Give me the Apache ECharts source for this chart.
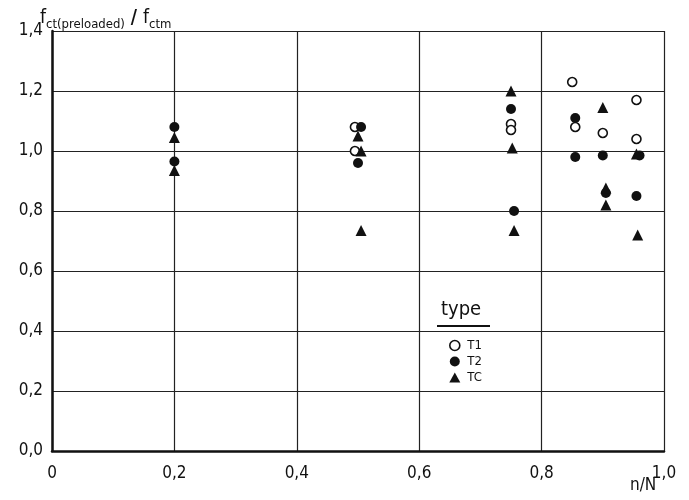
<!DOCTYPE html>
<html>
<head>
<meta charset="utf-8">
<script src="https://cdn.jsdelivr.net/npm/echarts@6/dist/echarts.min.js"></script>
<style>
html,body{margin:0;padding:0;background:#fff;}
#c{width:689px;height:500px;}
</style>
</head>
<body>
<div id="c"></div>
<script>
// Data (n/N, fct(preloaded)/fctm)
const xTicks = [0, 0.2, 0.4, 0.6, 0.8, 1.0];
const yTicks = [0, 0.2, 0.4, 0.6, 0.8, 1.0, 1.2, 1.4];
const seriesNames = ['T1', 'T2', 'TC'];
const T1 = [[0.495,1.08],[0.495,1.00],[0.75,1.09],[0.75,1.07],[0.85,1.23],[0.855,1.08],[0.90,1.06],[0.955,1.17],[0.955,1.04]];
const T2 = [[0.20,1.08],[0.20,0.965],[0.505,1.08],[0.50,0.96],[0.75,1.14],[0.755,0.80],[0.855,1.11],[0.855,0.98],[0.90,0.985],[0.905,0.86],[0.96,0.985],[0.955,0.85]];
const TC = [[0.20,1.045],[0.20,0.935],[0.50,1.05],[0.505,1.00],[0.505,0.735],[0.75,1.20],[0.752,1.01],[0.755,0.735],[0.90,1.145],[0.905,0.877],[0.905,0.82],[0.955,0.99],[0.957,0.72]];

const FONT = '"DejaVu Sans Condensed","DejaVu Sans",sans-serif';
const chart = echarts.init(document.getElementById('c'));

chart.setOption({
  backgroundColor: '#fff',
  animation: false,
  grid: {left: 52, right: 25, top: 31, bottom: 49, containLabel: false, outerBoundsMode: 'none'},
  xAxis: {
    type: 'value', min: xTicks[0], max: xTicks[xTicks.length-1], interval: 0.2,
    axisLine: {show: true, lineStyle: {color: '#111', width: 2.5}},
    axisTick: {show: false},
    splitLine: {show: true, lineStyle: {color: '#222', width: 1.2}},
    axisLabel: {color: '#111', fontSize: 17, fontFamily: FONT, margin: 14,
      formatter: v => v === 0 ? '0' : v.toFixed(1).replace('.', ','),
      showMaxLabel: true, showMinLabel: true}
  },
  yAxis: {
    type: 'value', min: yTicks[0], max: yTicks[yTicks.length-1], interval: 0.2,
    axisLine: {show: true, lineStyle: {color: '#111', width: 2.5}},
    axisTick: {show: false},
    splitLine: {show: true, lineStyle: {color: '#222', width: 1.2}},
    axisLabel: {color: '#111', fontSize: 17, fontFamily: FONT, margin: 9,
      formatter: v => v.toFixed(1).replace('.', ',')}
  },
  legend: {
    orient: 'vertical', left: 444, top: 334, itemWidth: 11, itemHeight: 10, itemGap: 3,
    textStyle: {color: '#111', fontSize: 13, fontFamily: FONT, padding: [0,0,0,2]},
    data: [
      {name: 'T1', icon: 'circle', itemStyle: {color: '#fff', borderColor: '#111', borderWidth: 1.6}},
      {name: 'T2', icon: 'circle', itemStyle: {color: '#111', opacity: 1}},
      {name: 'TC', icon: 'triangle', itemStyle: {color: '#111', opacity: 1}}
    ]
  },
  graphic: [
    {type: 'text', left: 40, top: 9, style: {
      rich: {
        f: {fontSize: 19, fontFamily: FONT, fill: '#111', lineHeight: 24, verticalAlign: 'bottom'},
        s: {fontSize: 13, fontFamily: FONT, fill: '#111', lineHeight: 14, verticalAlign: 'bottom', padding: [0,0,-3,0]},
        sl: {fontSize: 19, fontFamily: FONT, fill: '#111', lineHeight: 24, verticalAlign: 'bottom', fontWeight: 'bold'}
      },
      text: '{f|f}{s|ct(preloaded)}{sl| / }{f|f}{s|ctm}'
    }},
    {type: 'text', left: 630, top: 477, style: {text: 'n/N', fontSize: 17, fontFamily: FONT, fill: '#111'}},
    {type: 'text', left: 441, top: 300, style: {text: 'type', fontSize: 20, fontFamily: FONT, fill: '#111'}},
    {type: 'line', shape: {x1: 437, y1: 326, x2: 490, y2: 326}, style: {stroke: '#111', lineWidth: 2}}
  ],
  series: [
    {name: seriesNames[0], type: 'scatter', data: T1, symbol: 'circle', symbolSize: 9,
      itemStyle: {color: '#fff', borderColor: '#111', borderWidth: 1.6, opacity: 1}, z: 3},
    {name: seriesNames[1], type: 'scatter', data: T2, symbol: 'circle', symbolSize: 10,
      itemStyle: {color: '#111', opacity: 1}, z: 4},
    {name: seriesNames[2], type: 'scatter', data: TC, symbol: 'triangle', symbolSize: 11,
      itemStyle: {color: '#111', opacity: 1}, z: 5}
  ]
});
</script>
</body>
</html>
